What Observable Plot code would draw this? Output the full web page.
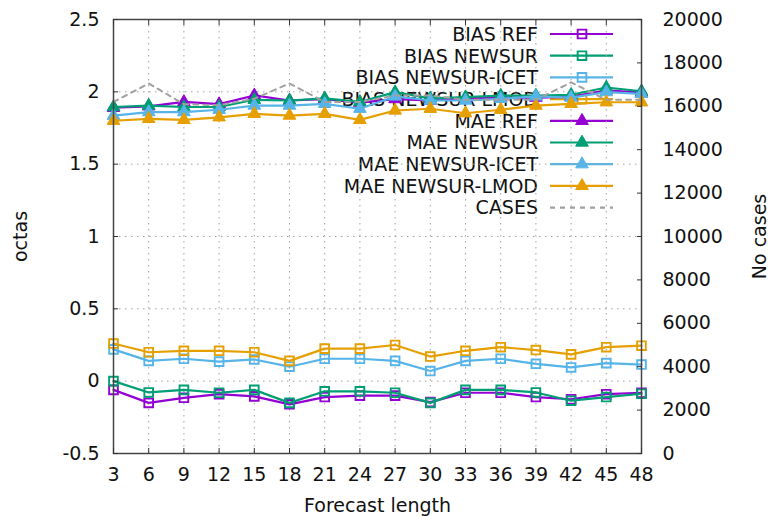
<!DOCTYPE html>
<html><head><meta charset="utf-8">
<script src="https://cdn.jsdelivr.net/npm/d3@7"></script>
<script src="https://cdn.jsdelivr.net/npm/@observablehq/plot@0.6"></script>
<style>
html,body{margin:0;padding:0;background:#fff;}
#wrap{position:relative;width:772px;height:516px;}
#legend{position:absolute;left:0;top:0;z-index:0;}
#chart{position:absolute;left:0;top:0;z-index:1;}
</style></head><body>
<div id="wrap"><svg id="legend" width="772" height="516"></svg><div id="chart"></div></div>
<script>
const forecast = [3, 6, 9, 12, 15, 18, 21, 24, 27, 30, 33, 36, 39, 42, 45, 48];

const biasRef    = [-0.06, -0.15, -0.115, -0.09, -0.105, -0.16, -0.11, -0.10, -0.10, -0.145, -0.08, -0.08, -0.11, -0.125, -0.09, -0.08];
const biasNewsur = [0.00, -0.078, -0.06, -0.08, -0.06, -0.15, -0.07, -0.07, -0.08, -0.15, -0.06, -0.06, -0.078, -0.135, -0.11, -0.087];
const biasIcet   = [0.22, 0.14, 0.155, 0.135, 0.15, 0.10, 0.155, 0.155, 0.14, 0.07, 0.14, 0.155, 0.12, 0.095, 0.125, 0.115];
const biasLmod   = [0.26, 0.20, 0.21, 0.21, 0.20, 0.14, 0.225, 0.225, 0.25, 0.17, 0.21, 0.235, 0.215, 0.185, 0.235, 0.245];

const maeRef     = [1.89, 1.90, 1.93, 1.915, 1.975, 1.94, 1.95, 1.925, 1.95, 1.94, 1.955, 1.96, 1.96, 1.965, 2.01, 1.995];
const maeNewsur  = [1.895, 1.905, 1.895, 1.895, 1.945, 1.94, 1.955, 1.93, 1.998, 1.955, 1.963, 1.974, 1.974, 1.98, 2.03, 2.004];
const maeIcet    = [1.835, 1.86, 1.86, 1.876, 1.905, 1.905, 1.917, 1.883, 1.968, 1.94, 1.94, 1.952, 1.968, 1.96, 1.998, 1.986];
const maeLmod    = [1.80, 1.813, 1.806, 1.824, 1.848, 1.836, 1.848, 1.806, 1.871, 1.883, 1.852, 1.876, 1.905, 1.917, 1.928, 1.928];

const cases      = [16200, 17050, 16100, 16050, 16350, 17050, 16200, 16200, 16500, 16500, 16300, 16300, 16300, 17100, 16300, 16300];

const leftTicks  = [-0.5, 0, 0.5, 1, 1.5, 2, 2.5];
const rightTicks = [0, 2000, 4000, 6000, 8000, 10000, 12000, 14000, 16000, 18000, 20000];

const seriesNames = ["BIAS REF", "BIAS NEWSUR", "BIAS NEWSUR-ICET", "BIAS NEWSUR-LMOD",
                     "MAE REF", "MAE NEWSUR", "MAE NEWSUR-ICET", "MAE NEWSUR-LMOD"];
const seriesValues = [biasRef, biasNewsur, biasIcet, biasLmod, maeRef, maeNewsur, maeIcet, maeLmod];
const palette = ["#9400d3", "#009e73", "#56b4e9", "#e69f00"];
const casesName = "CASES";

// left-axis range and right-axis range
const yMin = -0.5, yMax = 2.5, y2Max = 20000;
const toLeft = v => yMin + v * (yMax - yMin) / y2Max;

const series = seriesNames.map((name, i) => ({
  name, color: palette[i % 4], symbol: i < 4 ? "square" : "triangle",
  rows: forecast.map((f, j) => ({f, v: seriesValues[i][j]}))
}));
const casesRows = forecast.map((f, j) => ({f, c: cases[j]}));

const SQ_R = 4.9, TRI_R = 4.7;

const marks = [
  Plot.gridX(forecast, {stroke: "#a0a0a0", strokeOpacity: 1, strokeDasharray: "1.5,4.5"}),
  Plot.gridY(leftTicks, {stroke: "#a0a0a0", strokeOpacity: 1, strokeDasharray: "1.5,4.5"})
];
for (const s of series) {
  marks.push(Plot.line(s.rows, {x: "f", y: "v", stroke: s.color, strokeWidth: 2.2}));
  if (s.symbol === "square")
    marks.push(Plot.dot(s.rows, {x: "f", y: "v", symbol: "square", r: SQ_R, stroke: s.color, fill: "none", strokeWidth: 1.9}));
  else
    marks.push(Plot.dot(s.rows, {x: "f", y: "v", symbol: "triangle", r: TRI_R, fill: s.color, stroke: s.color, strokeWidth: 1}));
}
marks.push(Plot.line(casesRows, {x: "f", y: d => toLeft(d.c), stroke: "#a0a0a0", strokeWidth: 2, strokeDasharray: "5,5"}));
marks.push(Plot.frame({stroke: "#444", strokeWidth: 1.5}));
// labels
marks.push(Plot.axisX(forecast, {anchor: "bottom", tickSize: 0, tickPadding: 14, tickFormat: d => String(d),
  label: "Forecast length", labelAnchor: "center", labelArrow: "none", labelOffset: 58}));
marks.push(Plot.axisY(leftTicks, {anchor: "left", tickSize: 0, tickPadding: 14, tickFormat: d => String(d),
  label: "octas", labelAnchor: "center", labelArrow: "none", labelOffset: 100}));
marks.push(Plot.axisY(rightTicks.map(toLeft), {anchor: "right", tickSize: 0, tickPadding: 21,
  tickFormat: v => String(Math.round((v - yMin) * y2Max / (yMax - yMin))),
  label: "No cases", labelAnchor: "center", labelArrow: "none", labelOffset: 124}));
// inward ticks
marks.push(Plot.axisX(forecast, {anchor: "bottom", tickSize: -5, tickFormat: () => "", label: null, stroke: "#333"}));
marks.push(Plot.axisX(forecast, {anchor: "top", tickSize: -5, tickFormat: () => "", label: null, stroke: "#333"}));
marks.push(Plot.axisY(leftTicks, {anchor: "left", tickSize: -5, tickFormat: () => "", label: null, stroke: "#333"}));
marks.push(Plot.axisY(rightTicks.map(toLeft), {anchor: "right", tickSize: -5, tickFormat: () => "", label: null, stroke: "#333"}));

const chart = Plot.plot({
  width: 772, height: 516,
  marginLeft: 113, marginRight: 131, marginTop: 19, marginBottom: 63,
  x: {domain: [3, 48]},
  y: {domain: [yMin, yMax]},
  style: {fontFamily: "DejaVu Sans", fontSize: "19px", color: "#111", background: "transparent"},
  marks
});
document.getElementById("chart").appendChild(chart);

// legend (gnuplot-style key, drawn beneath the plot lines)
const lg = d3.select("#legend");
const entries = series.map(s => ({name: s.name, color: s.color, symbol: s.symbol, dash: null}))
  .concat([{name: casesName, color: "#a0a0a0", symbol: null, dash: "5,5"}]);
const textX = 538, lineX0 = 550, lineX1 = 613, symX = 582, row0 = 34, rowH = 21.7;
entries.forEach((e, i) => {
  const y = row0 + i * rowH;
  lg.append("text").attr("x", textX).attr("y", y).attr("dy", "0.36em")
    .attr("text-anchor", "end").attr("font-family", "DejaVu Sans").attr("font-size", 19)
    .attr("fill", "#111").text(e.name);
  lg.append("line").attr("x1", lineX0).attr("x2", lineX1).attr("y1", y).attr("y2", y)
    .attr("stroke", e.color).attr("stroke-width", 2.2).attr("stroke-dasharray", e.dash);
  if (e.symbol === "square") {
    lg.append("path").attr("d", d3.symbol(d3.symbolSquare, SQ_R * SQ_R * Math.PI)())
      .attr("transform", `translate(${symX},${y})`).attr("fill", "none")
      .attr("stroke", e.color).attr("stroke-width", 1.9);
  } else if (e.symbol === "triangle") {
    lg.append("path").attr("d", d3.symbol(d3.symbolTriangle, TRI_R * TRI_R * Math.PI)())
      .attr("transform", `translate(${symX},${y})`).attr("fill", e.color)
      .attr("stroke", e.color).attr("stroke-width", 1);
  }
});
</script>
</body></html>
